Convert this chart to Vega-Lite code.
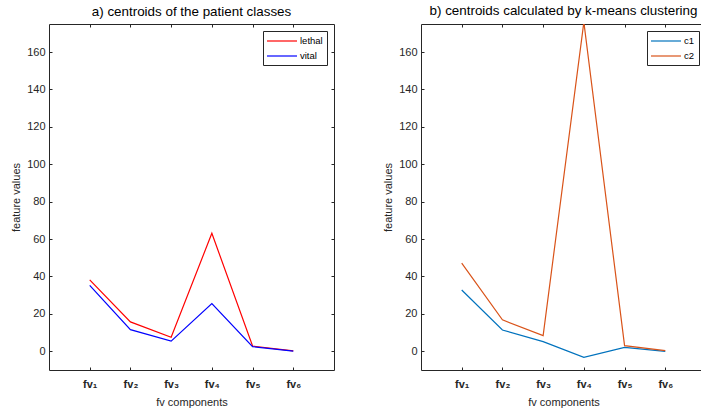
{
  "$schema": "https://vega.github.io/schema/vega-lite/v6.json",
  "padding": {"left": 10, "top": 3, "right": 0, "bottom": 0},
  "background": "white",
  "config": {
    "font": "Liberation Sans",
    "view": {"stroke": "#262626", "strokeWidth": 1},
    "axis": {"grid": false, "domain": false, "labelColor": "#262626", "titleColor": "#262626", "labelFontSize": 11, "titleFontSize": 11, "titleFontWeight": "normal", "tickColor": "#262626", "tickSize": -3, "labelFont": "Liberation Sans"},
    "title": {"fontSize": 13.4, "fontWeight": "normal", "color": "#000000", "offset": 5},
    "legend": {"orient": "top-right", "offset": 7, "strokeColor": "#262626", "fillColor": "white", "padding": 4, "title": null, "symbolType": "M-3,0H3", "symbolSize": 100, "symbolStrokeWidth": 1.2, "symbolOffset": 9, "labelFontSize": 9.5, "labelColor": "#000000", "rowPadding": 4, "labelOffset": 12}
  },
  "datasets": {
    "a": [
      {"fv": 1, "value": 38.2, "class": "lethal"},
      {"fv": 2, "value": 15.7, "class": "lethal"},
      {"fv": 3, "value": 7.5, "class": "lethal"},
      {"fv": 4, "value": 63.1, "class": "lethal"},
      {"fv": 5, "value": 2.8, "class": "lethal"},
      {"fv": 6, "value": 0.2, "class": "lethal"},
      {"fv": 1, "value": 35.2, "class": "vital"},
      {"fv": 2, "value": 11.6, "class": "vital"},
      {"fv": 3, "value": 5.4, "class": "vital"},
      {"fv": 4, "value": 25.5, "class": "vital"},
      {"fv": 5, "value": 2.5, "class": "vital"},
      {"fv": 6, "value": 0.1, "class": "vital"}
    ],
    "b": [
      {"fv": 1, "value": 32.8, "class": "c1"},
      {"fv": 2, "value": 11.4, "class": "c1"},
      {"fv": 3, "value": 5.2, "class": "c1"},
      {"fv": 4, "value": -3.2, "class": "c1"},
      {"fv": 5, "value": 2.1, "class": "c1"},
      {"fv": 6, "value": 0.0, "class": "c1"},
      {"fv": 1, "value": 47.1, "class": "c2"},
      {"fv": 2, "value": 16.8, "class": "c2"},
      {"fv": 3, "value": 8.4, "class": "c2"},
      {"fv": 4, "value": 176, "class": "c2"},
      {"fv": 5, "value": 3.0, "class": "c2"},
      {"fv": 6, "value": 0.4, "class": "c2"}
    ]
  },
  "hconcat": [
    {
      "width": 285,
      "height": 346,
      "title": "a)  centroids of the patient classes",
      "data": {"name": "a"},
      "layer": [
        {
          "mark": {"type": "line", "strokeWidth": 1.2, "clip": true},
          "encoding": {
            "x": {"field": "fv", "type": "quantitative", "scale": {"domain": [0, 7], "nice": false}, "axis": {"orient": "bottom", "values": [1, 2, 3, 4, 5, 6], "title": "fv components", "labelFontWeight": "bold", "labelExpr": "'fv' + ['₀','₁','₂','₃','₄','₅','₆'][datum.value]", "labelPadding": 11, "titlePadding": 7}},
            "y": {"field": "value", "type": "quantitative", "scale": {"domain": [-10, 175], "nice": false, "zero": false}, "axis": {"orient": "left", "values": [0, 20, 40, 60, 80, 100, 120, 140, 160], "title": "feature values", "labelPadding": 7, "titlePadding": 5}},
            "color": {"field": "class", "type": "nominal", "scale": {"domain": ["lethal", "vital"], "range": ["#FF0000", "#0000FF"]}}
          }
        },
        {
          "mark": {"type": "line", "opacity": 0},
          "encoding": {
            "x": {"field": "fv", "type": "quantitative", "axis": {"orient": "top", "values": [1, 2, 3, 4, 5, 6], "labels": false, "title": null}},
            "y": {"field": "value", "type": "quantitative", "axis": {"orient": "right", "values": [0, 20, 40, 60, 80, 100, 120, 140, 160], "labels": false, "title": null}}
          }
        }
      ],
      "resolve": {"axis": {"x": "independent", "y": "independent"}}
    },
    {
      "width": 285,
      "height": 346,
      "title": "b)  centroids calculated by k-means clustering",
      "data": {"name": "b"},
      "layer": [
        {
          "mark": {"type": "line", "strokeWidth": 1.2, "clip": true},
          "encoding": {
            "x": {"field": "fv", "type": "quantitative", "scale": {"domain": [0, 7], "nice": false}, "axis": {"orient": "bottom", "values": [1, 2, 3, 4, 5, 6], "title": "fv components", "labelFontWeight": "bold", "labelExpr": "'fv' + ['₀','₁','₂','₃','₄','₅','₆'][datum.value]", "labelPadding": 11, "titlePadding": 7}},
            "y": {"field": "value", "type": "quantitative", "scale": {"domain": [-10, 175], "nice": false, "zero": false}, "axis": {"orient": "left", "values": [0, 20, 40, 60, 80, 100, 120, 140, 160], "title": "feature values", "labelPadding": 7, "titlePadding": 5}},
            "color": {"field": "class", "type": "nominal", "scale": {"domain": ["c1", "c2"], "range": ["#0072BD", "#D95319"]}}
          }
        },
        {
          "mark": {"type": "line", "opacity": 0},
          "encoding": {
            "x": {"field": "fv", "type": "quantitative", "axis": {"orient": "top", "values": [1, 2, 3, 4, 5, 6], "labels": false, "title": null}},
            "y": {"field": "value", "type": "quantitative", "axis": {"orient": "right", "values": [0, 20, 40, 60, 80, 100, 120, 140, 160], "labels": false, "title": null}}
          }
        }
      ],
      "resolve": {"axis": {"x": "independent", "y": "independent"}}
    }
  ],
  "spacing": 47,
  "resolve": {"scale": {"color": "independent"}}
}
